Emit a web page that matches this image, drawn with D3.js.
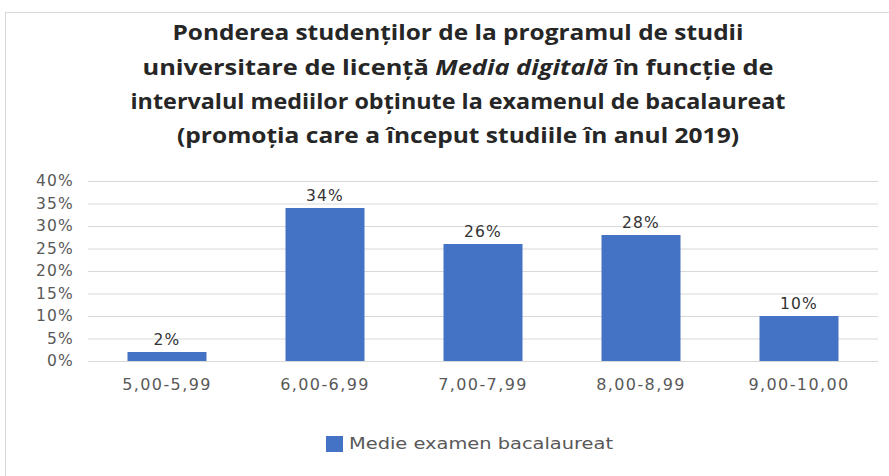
<!DOCTYPE html>
<html>
<head>
<meta charset="utf-8">
<script src="https://cdn.jsdelivr.net/npm/d3@7"></script>
<style>
  html, body { margin: 0; padding: 0; background: #fff; }
  svg { display: block; }
</style>
</head>
<body>
<svg id="chart" width="889" height="476"></svg>
<script>
// Chart data
const categories = ["5,00-5,99", "6,00-6,99", "7,00-7,99", "8,00-8,99", "9,00-10,00"];
const values = [2, 34, 26, 28, 10];
const yTicks = [0, 5, 10, 15, 20, 25, 30, 35, 40];
const seriesName = "Medie examen bacalaureat";
const titleLines = [
  [{ t: "Ponderea studenților de la programul de studii" }],
  [{ t: "universitare de licență " }, { t: "Media digitală", italic: true }, { t: " în funcție de" }],
  [{ t: "intervalul mediilor obținute la examenul de bacalaureat" }],
  [{ t: "(promoția care a început studiile în anul 2019)" }]
];

const W = 889, H = 476;
const svg = d3.select("#chart");
const titleFont = "'Open Sans', 'Liberation Sans', sans-serif";
const font = "'DejaVu Sans', 'Open Sans', sans-serif";

// Chart area frame
svg.append("rect")
  .attr("x", 5.5).attr("y", 12.5)
  .attr("width", W).attr("height", H)
  .attr("fill", "#fff").attr("stroke", "#d9d9d9");

// Title
const titleWidths = [571, 631, 655, 562];
const titleY = [40, 75, 109, 143];
titleLines.forEach((parts, i) => {
  const t = svg.append("text")
    .attr("x", 458).attr("y", titleY[i])
    .attr("text-anchor", "middle")
    .attr("font-family", titleFont)
    .attr("font-size", 21)
    .attr("font-weight", 700)
    .attr("fill", "#262626")
    .attr("textLength", titleWidths[i])
    .attr("lengthAdjust", "spacingAndGlyphs");
  parts.forEach(p => {
    t.append("tspan").text(p.t).attr("font-style", p.italic ? "italic" : "normal");
  });
});

// Scales
const x = d3.scaleBand().domain(categories).range([88, 878]).paddingInner(0.5).paddingOuter(0.25);
const y = d3.scaleLinear().domain([0, 40]).range([361, 181]);

// Gridlines
svg.append("g").selectAll("line").data(yTicks).join("line")
  .attr("x1", 88).attr("x2", 878)
  .attr("y1", d => y(d) + 0.5).attr("y2", d => y(d) + 0.5)
  .attr("stroke", "#d9d9d9").attr("stroke-width", 1.2);

// Y axis labels
const yAxis = d3.axisLeft(y).tickValues(yTicks).tickFormat(d => d + "%").tickSize(0).tickPadding(0);
const gy = svg.append("g").attr("transform", "translate(74,0)").call(yAxis);
gy.select(".domain").remove();
gy.selectAll("text")
  .attr("font-family", font).attr("font-size", 15.5)
  .attr("letter-spacing", 1.2)
  .attr("fill", "#595959");

// Bars
svg.append("g").selectAll("rect").data(values).join("rect")
  .attr("x", (d, i) => x(categories[i]))
  .attr("width", x.bandwidth())
  .attr("y", d => y(d))
  .attr("height", d => y(0) - y(d))
  .attr("fill", "#4472C4");

// Value labels
svg.append("g").selectAll("text").data(values).join("text")
  .attr("x", (d, i) => x(categories[i]) + x.bandwidth() / 2)
  .attr("y", d => y(d) - 7)
  .attr("text-anchor", "middle")
  .attr("font-family", font).attr("font-size", 15.5)
  .attr("letter-spacing", 1.2)
  .attr("fill", "#333333")
  .text(d => d + "%");

// X axis labels
const xAxis = d3.axisBottom(x).tickSize(0).tickPadding(0);
const gx = svg.append("g").attr("transform", "translate(0,379)").call(xAxis);
gx.select(".domain").remove();
gx.selectAll("text")
  .attr("font-family", font).attr("font-size", 16)
  .attr("letter-spacing", 1.4)
  .attr("fill", "#595959");

// Legend
const lg = svg.append("g");
lg.append("rect").attr("x", 326).attr("y", 436).attr("width", 17).attr("height", 16).attr("fill", "#4472C4");
lg.append("text").attr("x", 349).attr("y", 449)
  .attr("font-family", font).attr("font-size", 15)
  .attr("fill", "#595959")
  .attr("textLength", 264)
  .attr("lengthAdjust", "spacingAndGlyphs")
  .text(seriesName);
</script>
</body>
</html>
